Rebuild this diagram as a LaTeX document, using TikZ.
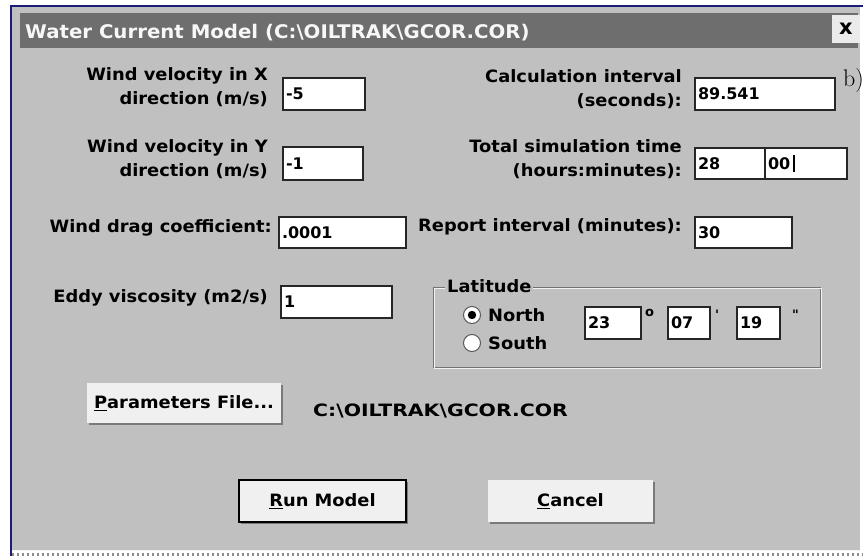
\documentclass[tikz,border=0pt]{standalone}
\usepackage{fontspec}
\newfontfamily\dlgfont{DejaVu Sans}[FakeStretch=1.05]
\newfontfamily\valuefont{DejaVu Sans}
\newfontfamily\pathfont{DejaVu Sans}[FakeStretch=1.2]
\usepackage{xcolor}
\definecolor{dlgGris}{HTML}{C0C0C0}
\definecolor{dlgTitulo}{HTML}{6E6E6E}
\definecolor{dlgAzul}{HTML}{1C1C78}
\definecolor{dlgBoton}{HTML}{F0F0F0}
\definecolor{dlgSombra}{HTML}{7A7A7A}
\usepackage{tikz}
\usetikzlibrary{shadows}
\newcommand{\lblfont}{\dlgfont\bfseries\fontsize{17}{24}\selectfont}
\newcommand{\valfont}{\valuefont\bfseries\fontsize{16}{18}\selectfont}

\begin{document}
\begin{tikzpicture}[x=1pt,y=-1pt,
 lbl/.style={font=\lblfont,inner sep=0pt,align=right},
 field/.style={draw=black!85,line width=1.1pt,fill=white,inner xsep=3pt,inner ysep=0pt,
 align=left,font=\valfont},
 btn/.style={fill=dlgBoton,font=\lblfont,inner sep=0pt,
 drop shadow={shadow xshift=2pt,shadow yshift=-2pt,fill=dlgSombra,opacity=1}},
 radio/.style={circle,draw=black!65,line width=1pt,fill=white,minimum size=17pt,inner sep=0pt},
 unitsym/.style={font=\valuefont\bfseries\fontsize{13}{13}\selectfont,inner sep=0pt}]
 \useasboundingbox (0,0) rectangle (863,556);
 \fill[white] (0,0) rectangle (863,556);
 \fill[dlgGris] (12,7) rectangle (860,551);
 \draw[dlgAzul,line width=1.5pt] (11,556) -- (11,6) -- (863,6);
 \fill[dlgTitulo] (20,13) rectangle (858,48);
 \draw[white!92!gray,line width=1pt] (12,550.5) -- (860,550.5);
 \draw[black!45,line width=3pt,dash pattern=on 2pt off 3pt] (12,554.5) -- (863,554.5);
 \node[anchor=base west,inner sep=0pt,text=white!94!gray,
 font=\dlgfont\bfseries\fontsize{18.8}{18}\selectfont] (title) at (25,38.5)
 {Water Current Model (C:\textbackslash OILTRAK\textbackslash GCOR.COR)};
 \node[fill=black!8,minimum size=28pt,inner sep=0pt,
 font=\valuefont\bfseries\fontsize{21}{21}\selectfont] (closebtn) at (846,29) {x};
 \node[anchor=base west,inner sep=0pt,font=\rmfamily\fontsize{24}{24}\selectfont] (partb) at (843,87) {b)};

 \node[lbl,anchor=north east] (lwindx) at (268,67.5) {Wind velocity in X\\direction (m/s)};
 \node[field,text width=76pt,minimum height=32pt] (fwindx) at (324,94) {-5};
 \node[lbl,anchor=north east] (lwindy) at (268,139.5) {Wind velocity in Y\\direction (m/s)};
 \node[field,text width=74pt,minimum height=33pt] (fwindy) at (323,163.5) {-1};
 \node[lbl,anchor=base east] (ldrag) at (272,233) {Wind drag coefficient:};
 \node[field,text width=121pt,minimum height=31pt] (fdrag) at (342.5,232.5) {.0001};
 \node[lbl,anchor=base east] (leddy) at (268,303) {Eddy viscosity (m2/s)};
 \node[field,text width=105pt,minimum height=32pt] (feddy) at (336.5,302) {1};

 \node[lbl,anchor=north east] (lcalc) at (682,69.5) {Calculation interval\\(seconds):};
 \node[field,text width=134pt,minimum height=32pt] (fcalc) at (765,94) {89.541};
 \node[lbl,anchor=north east] (ltotal) at (682,139.5) {Total simulation time\\(hours:minutes):};
 \node[field,text width=64pt,minimum height=31pt] (fhours) at (730,163.5) {28};
 \node[field,text width=76pt,minimum height=31pt] (fminutes) at (806,163.5) {00};
 \draw[line width=1.2pt] (794,155) -- (794,172);
 \node[lbl,anchor=base east] (lreport) at (682,232) {Report interval (minutes):};
 \node[field,text width=91pt,minimum height=31pt] (freport) at (743.5,232.5) {30};

 \draw[black!55,line width=1pt] (433,288) rectangle (820,368);
 \draw[white!90!gray,line width=1pt] (434,289) rectangle (821,369);
 \node[lbl,anchor=base west,fill=dlgGris,inner xsep=2pt,inner ysep=1pt] (llat) at (445,293) {Latitude};
 \node[radio] (rnorth) at (472,315) {};
 \fill[black] (rnorth.center) circle (4.2pt);
 \node[radio] (rsouth) at (472,343) {};
 \node[lbl,anchor=base west] (lnorth) at (488,322) {North};
 \node[lbl,anchor=base west] (lsouth) at (488,350) {South};
 \node[field,text width=50pt,minimum height=32pt] (fdeg) at (613,323) {23};
 \node[unitsym,anchor=base west] (sdeg) at (645,317) {o};
 \node[field,text width=36pt,minimum height=32pt] (fmin) at (689,323) {07};
 \node[unitsym,anchor=base west] (smin) at (715,320) {'};
 \node[field,text width=37pt,minimum height=32pt] (fsec) at (758.5,323) {19};
 \node[unitsym,anchor=base west] (ssec) at (792,320) {"};

 \node[btn,minimum width=194pt,minimum height=40pt] (parambtn) at (184,403) {\underline{P}arameters File...};
 \node[anchor=base west,inner sep=0pt,font=\pathfont\bfseries\fontsize{17}{20}\selectfont] (lpath) at (313,417)
 {C:\textbackslash OILTRAK\textbackslash GCOR.COR};
 \node[btn,draw=black,line width=1.3pt,minimum width=167pt,minimum height=42pt] (runbtn) at (322.5,501) {\underline{R}un Model};
 \node[btn,minimum width=165pt,minimum height=42pt] (cancelbtn) at (570.5,501) {\underline{C}ancel};
\end{tikzpicture}
\end{document}
